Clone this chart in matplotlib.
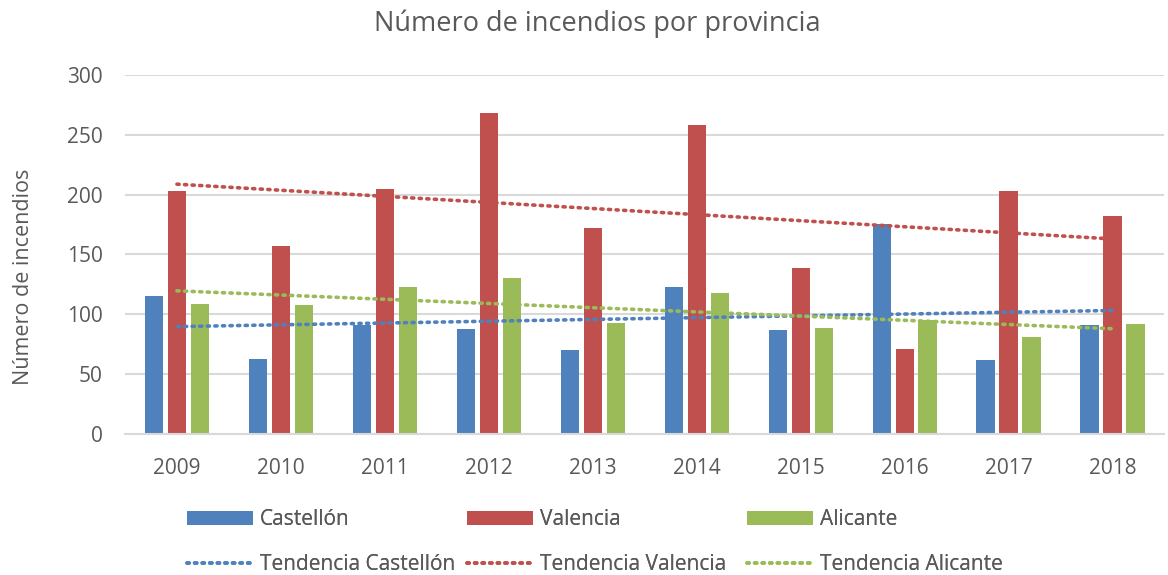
import numpy as np
import matplotlib.pyplot as plt

# datos
years = ['2009', '2010', '2011', '2012', '2013', '2014', '2015', '2016', '2017', '2018']
castellon = [115, 63, 91, 88, 70, 123, 87, 175, 62, 91]
valencia = [203, 157, 205, 268, 172, 258, 139, 71, 203, 182]
alicante = [109, 108, 123, 130, 93, 118, 89, 95, 81, 92]

series = [('Castellón', castellon, '#4F81BD'),
          ('Valencia', valencia, '#C0504D'),
          ('Alicante', alicante, '#9BBB59')]

plt.rcParams['font.family'] = ['Open Sans', 'DejaVu Sans']
gris = '#595959'
fs = 15

fig = plt.figure(figsize=(11.68, 5.75), dpi=100)
ax = fig.add_axes([0.107, 0.245, 0.89, 0.625])

x = np.arange(len(years))
ancho = 0.175
paso = 0.221

barras = []
tendencias = []
for i, (nombre, vals, color) in enumerate(series):
    b = ax.bar(x + (i - 1) * paso, vals, ancho, color=color, label=nombre, zorder=2)
    barras.append(b)
    # linea de tendencia lineal
    m, c = np.polyfit(x, vals, 1)
    l, = ax.plot(x, m * x + c, linestyle=(0, (0.6, 1.5)), dash_capstyle='round',
                 color=color, linewidth=2.6, label='Tendencia ' + nombre, zorder=3)
    tendencias.append(l)

ax.set_ylim(0, 300)
ax.set_xlim(-0.5, len(years) - 0.5)
ax.set_yticks(range(0, 301, 50))
ax.set_xticks(x)
ax.set_xticklabels(years)
ax.yaxis.grid(True, color='#D9D9D9', linewidth=1.5, zorder=0)
ax.set_axisbelow(True)
for s in ['top', 'right', 'left']:
    ax.spines[s].set_visible(False)
ax.spines['bottom'].set_color('#D9D9D9')
ax.spines['bottom'].set_linewidth(1.5)
ax.tick_params(length=0, labelsize=fs, colors=gris)
ax.tick_params(axis='x', pad=17)
ax.tick_params(axis='y', pad=16)

fig.text(24 / 1168, 1 - 277 / 575, 'Número de incendios', rotation=90,
         ha='center', va='center', fontsize=15.5, color=gris)
fig.text(0.511, 1 - 24 / 575, 'Número de incendios por provincia',
         ha='center', va='center', fontsize=19.5, color=gris)

# una leyenda por provincia (barra + tendencia)
xs = [187, 467, 747]
for b, l, x0 in zip(barras, tendencias, xs):
    leg = fig.legend([b, l], [b.get_label(), l.get_label()], loc='upper left',
                     bbox_to_anchor=(x0 / 1168, 1 - 509 / 575), frameon=False,
                     fontsize=fs, labelcolor=gris, handlelength=3.15,
                     handleheight=0.65, labelspacing=1.15, handletextpad=0.35,
                     borderpad=0, borderaxespad=0)
    fig.add_artist(leg)

fig.savefig('out.png', dpi=100)
